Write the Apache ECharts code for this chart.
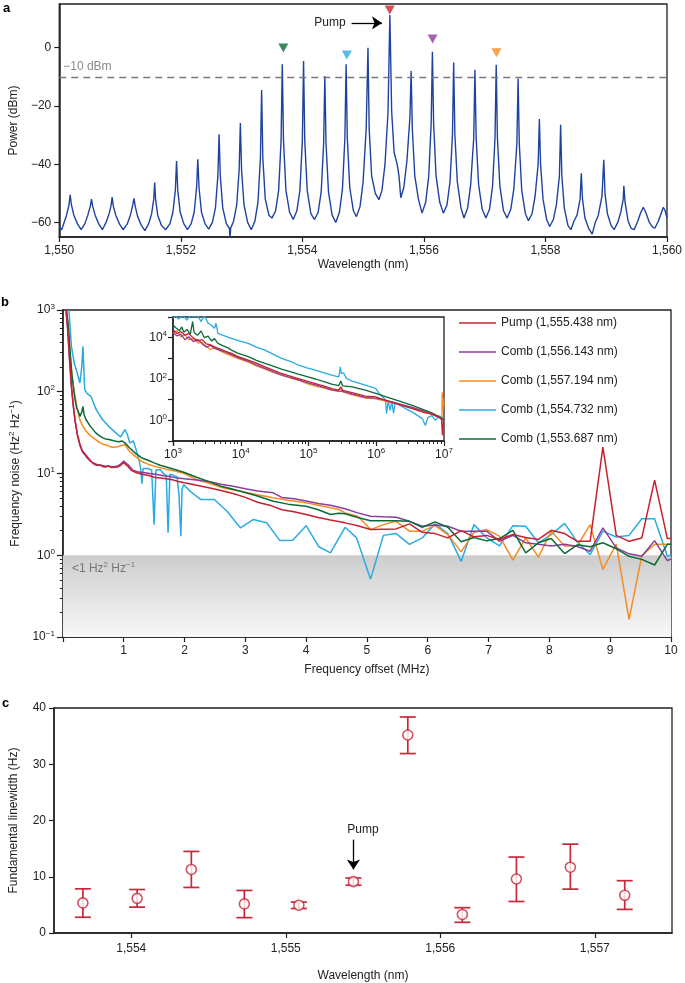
<!DOCTYPE html>
<html><head><meta charset="utf-8">
<script src="https://cdn.jsdelivr.net/npm/echarts@6/dist/echarts.min.js"></script>
<style>html,body{margin:0;padding:0;background:#fff}#c{width:685px;height:983px}</style>
</head><body><div id="c"></div><script>
// ---------- Panel a: optical spectrum (wavelength nm, power dBm) ----------
var spectrum = [
[1550.00,-61.5],[1550.04,-62.5],[1550.08,-60],[1550.12,-57.5],[1550.16,-54],[1550.18,-50.5],[1550.20,-54],[1550.24,-57.5],[1550.30,-60.5],[1550.36,-62.5],
[1550.42,-60.5],[1550.47,-57.5],[1550.51,-54.5],[1550.53,-52],[1550.55,-54.5],[1550.59,-57.5],[1550.65,-60.5],[1550.71,-62.5],
[1550.77,-60],[1550.82,-57],[1550.85,-54.5],[1550.87,-51.3],[1550.89,-54.5],[1550.93,-57.5],[1550.99,-60.5],[1551.05,-62.5],
[1551.12,-60.5],[1551.17,-57.5],[1551.21,-54],[1551.23,-51.7],[1551.25,-54.5],[1551.29,-58],[1551.35,-61],[1551.41,-62.8],
[1551.47,-60.5],[1551.52,-57],[1551.555,-52],[1551.57,-46.3],[1551.585,-52],[1551.62,-57.5],[1551.68,-61],[1551.75,-62.5],
[1551.82,-60.5],[1551.87,-56.5],[1551.91,-49],[1551.93,-38.9],[1551.95,-49],[1551.99,-56.5],[1552.05,-60.5],[1552.11,-62.5],
[1552.17,-60.5],[1552.22,-56.5],[1552.26,-48],[1552.28,-38.3],[1552.30,-48],[1552.34,-56.5],[1552.40,-60.5],[1552.46,-62.3],
[1552.52,-60],[1552.57,-55],[1552.61,-44],[1552.63,-29.7],[1552.65,-44],[1552.69,-55],[1552.75,-60.5],[1552.80,-62],[1552.81,-65.5],[1552.82,-62],
[1552.87,-59.5],[1552.92,-54],[1552.96,-42],[1552.98,-25.9],[1553.00,-42],[1553.04,-54],[1553.10,-60],[1553.16,-62.5],
[1553.22,-59.5],[1553.27,-53],[1553.31,-38],[1553.33,-14.5],[1553.35,-38],[1553.39,-52],[1553.45,-57.5],[1553.50,-58.5],
[1553.56,-56],[1553.61,-49],[1553.65,-32],[1553.67,-5.7],[1553.69,-32],[1553.73,-49],[1553.79,-56.5],[1553.85,-59],
[1553.91,-56],[1553.96,-49],[1554.00,-32],[1554.02,-4.6],[1554.04,-32],[1554.08,-49],[1554.14,-57],[1554.20,-59],
[1554.26,-56.5],[1554.31,-49.5],[1554.35,-33],[1554.37,-9.7],[1554.39,-33],[1554.43,-49.5],[1554.49,-57.5],[1554.55,-60],
[1554.61,-56.5],[1554.66,-48.5],[1554.70,-31],[1554.72,-5.7],[1554.74,-31],[1554.78,-48],[1554.84,-56],[1554.89,-58],
[1554.95,-54.5],[1555.00,-46],[1555.05,-28],[1555.08,0],[1555.10,-28],[1555.14,-44],[1555.20,-50],[1555.26,-52.2],
[1555.31,-49],[1555.36,-40],[1555.41,-22],[1555.44,11.2],[1555.47,-22],[1555.51,-36],[1555.56,-40],[1555.59,-44],[1555.62,-51.5],
[1555.67,-48],[1555.72,-39],[1555.77,-24],[1555.79,-8],[1555.81,-28],[1555.85,-44],[1555.91,-52],[1555.97,-56.8],
[1556.03,-53],[1556.08,-44],[1556.12,-26],[1556.14,-1.4],[1556.16,-26],[1556.20,-44],[1556.26,-53],[1556.32,-56.8],
[1556.38,-54],[1556.43,-46],[1556.47,-30],[1556.49,-5.1],[1556.51,-30],[1556.55,-46],[1556.61,-55],[1556.66,-58.5],
[1556.72,-55],[1556.77,-47],[1556.82,-31],[1556.84,-7.6],[1556.86,-31],[1556.90,-47],[1556.96,-55.5],[1557.02,-58.5],
[1557.08,-55.5],[1557.13,-47.5],[1557.17,-31],[1557.19,-5.9],[1557.21,-31],[1557.25,-47.5],[1557.31,-56],[1557.37,-58.5],
[1557.43,-55.5],[1557.48,-48.5],[1557.53,-33],[1557.55,-10.6],[1557.57,-33],[1557.61,-49],[1557.67,-57],[1557.72,-59.4],
[1557.78,-57],[1557.83,-51],[1557.88,-40],[1557.90,-24.5],[1557.92,-40],[1557.96,-52],[1558.02,-59],[1558.07,-61.4],
[1558.13,-59],[1558.18,-54],[1558.23,-44],[1558.25,-26.5],[1558.27,-44],[1558.31,-55],[1558.37,-61],[1558.42,-62.5],
[1558.47,-59.5],[1558.52,-57.5],[1558.57,-52],[1558.59,-43.1],[1558.61,-52],[1558.65,-58.5],[1558.71,-62],[1558.77,-64],
[1558.82,-60],[1558.87,-57.5],[1558.93,-51],[1558.96,-38.5],[1558.98,-50],[1559.02,-57],[1559.08,-61],[1559.13,-62.5],
[1559.19,-60],[1559.24,-56.5],[1559.28,-52],[1559.29,-47.4],[1559.31,-53],[1559.36,-59.5],[1559.41,-62],[1559.46,-62.5],
[1559.52,-59.5],[1559.57,-56.5],[1559.61,-54.8],[1559.65,-56.5],[1559.71,-60],[1559.76,-61.5],[1559.80,-62],
[1559.86,-59.5],[1559.91,-56.5],[1559.94,-54.8],[1559.97,-56],[1560.00,-58.5]
];
var markerWl = [1553.687, 1554.732, 1555.438, 1556.143, 1557.194];
var markerDb = [-0.1, -2.5, 12.9, 3.0, -1.7];
var refLevel = -10;
var spectrumYTicks = [-60, -40, -20, 0];

// ---------- Panel b: frequency noise (MHz, Hz^2/Hz) ----------
var seriesNames = ['Pump (1,555.438 nm)', 'Comb (1,556.143 nm)', 'Comb (1,557.194 nm)', 'Comb (1,554.732 nm)', 'Comb (1,553.687 nm)'];
var noisePump = [[0.05,1100],[0.08,600],[0.11,260],[0.14,120],[0.17,70],[0.2,45],[0.24,30],[0.28,23],[0.32,19],[0.36,17.5],[0.4,16],[0.45,14.5],[0.5,13.2],[0.55,12.6],[0.6,12.8],[0.65,12.2],[0.7,12.0],[0.75,12.3],[0.8,11.8],[0.85,11.9],[0.9,12.0],[0.95,12.6],[1.0,13.6],[1.03,13.2],[1.07,12.2],[1.12,11.0],[1.2,10.3],[1.3,9.8],[1.4,9.5],[1.5,9.0],[1.6,8.8],[1.7,8.6],[1.8,8.4],[1.9,8.0],[2.0,7.7],[2.2,7.2],[2.4,6.7],[2.6,6.2],[2.8,5.7],[3.0,5.1],[3.2,4.45],[3.4,4.1],[3.6,3.6],[3.8,3.4],[4.0,3.15],[4.2,2.9],[4.4,2.7],[4.64,2.49],[4.85,2.3],[5.06,2.06],[5.27,2.08],[5.48,2.1],[5.70,2.42],[5.91,1.91],[6.12,1.84],[6.33,1.63],[6.55,2.0],[6.76,1.68],[6.97,1.75],[7.18,1.56],[7.40,1.79],[7.61,1.65],[7.82,1.56],[8.03,2.02],[8.25,1.84],[8.46,1.48],[8.67,1.48],[8.88,21],[9.10,1.75],[9.31,1.48],[9.52,1.63],[9.73,8.3],[9.94,1.6],[10,1.6]];
var noiseComb1 = [[0.05,1000],[0.08,550],[0.11,240],[0.14,115],[0.17,68],[0.2,44],[0.24,29],[0.28,22],[0.32,18.5],[0.36,17],[0.4,15.5],[0.45,14.2],[0.5,13.5],[0.55,13.0],[0.6,12.7],[0.65,12.5],[0.7,12.3],[0.75,12.4],[0.8,12.1],[0.85,12.2],[0.9,12.4],[0.95,13.0],[1.0,14.2],[1.03,13.8],[1.08,12.6],[1.15,11.0],[1.25,10.4],[1.35,10.2],[1.45,9.9],[1.55,9.7],[1.65,9.4],[1.75,9.2],[1.85,8.9],[2.0,8.6],[2.2,8.3],[2.4,8.0],[2.6,7.4],[2.8,7.0],[3.0,6.5],[3.2,6.1],[3.46,5.8],[3.6,5.1],[3.8,4.9],[4.0,4.6],[4.2,4.3],[4.4,4.1],[4.64,3.7],[4.85,3.3],[5.06,3.0],[5.27,2.95],[5.48,2.92],[5.70,2.6],[5.91,2.26],[6.12,2.35],[6.33,2.26],[6.55,1.97],[6.76,1.97],[6.97,1.97],[7.18,1.48],[7.40,1.75],[7.61,1.42],[7.82,1.36],[8.03,1.30],[8.25,1.36],[8.46,1.28],[8.67,1.12],[8.88,2.16],[9.10,1.23],[9.31,1.04],[9.52,0.97],[9.73,1.51],[9.94,0.86],[10,0.9]];
var noiseComb2 = [[0.05,1000],[0.08,700],[0.11,350],[0.14,180],[0.17,120],[0.2,88],[0.24,60],[0.28,45],[0.33,38],[0.38,33],[0.45,29],[0.54,26],[0.6,24],[0.65,23],[0.7,22.5],[0.76,21.6],[0.82,21],[0.9,21.2],[0.97,22],[1.02,22.5],[1.1,18.5],[1.2,16],[1.3,14],[1.4,13],[1.5,12.3],[1.6,11.8],[1.7,11.3],[1.84,10.7],[2.0,10.0],[2.2,8.4],[2.38,7.7],[2.6,6.8],[2.8,6.3],[2.92,6.07],[3.2,5.5],[3.46,5.04],[3.7,4.7],[4.0,4.38],[4.2,4.1],[4.4,3.8],[4.54,3.63],[4.64,3.3],[4.85,3.0],[5.06,2.06],[5.27,2.37],[5.48,2.6],[5.70,1.97],[5.91,1.97],[6.12,2.3],[6.33,1.79],[6.55,1.1],[6.76,1.91],[6.97,2.06],[7.18,1.71],[7.40,0.87],[7.61,1.63],[7.82,0.95],[8.03,1.97],[8.25,1.30],[8.46,1.30],[8.67,2.37],[8.88,0.67],[9.10,1.37],[9.31,0.164],[9.52,0.99],[9.73,1.36],[9.94,1.36],[10,1.36]];
var noiseComb3 = [[0.1,1000],[0.14,361],[0.19,220],[0.22,187],[0.28,128],[0.31,200],[0.33,361],[0.35,150],[0.36,106],[0.4,95],[0.46,88],[0.55,60],[0.65,45.8],[0.75,38],[0.87,31.4],[0.95,28],[1.02,34.5],[1.06,30],[1.1,23.7],[1.16,25],[1.2,20],[1.25,14.8],[1.28,11.5],[1.30,7.5],[1.32,11.5],[1.4,11.5],[1.46,11],[1.5,2.37],[1.53,11],[1.6,11.2],[1.65,10],[1.7,9.5],[1.73,1.88],[1.76,9.8],[1.82,9.5],[1.88,9.0],[1.91,5.4],[1.94,1.71],[1.96,6.5],[1.99,7.3],[2.1,6.0],[2.27,4.8],[2.49,4.8],[2.7,3.45],[2.92,2.16],[3.13,2.73],[3.35,2.5],[3.57,1.51],[3.78,1.53],[4.0,2.3],[4.21,1.27],[4.40,1.07],[4.64,2.2],[4.83,1.63],[5.06,0.51],[5.27,1.75],[5.48,1.84],[5.70,1.36],[5.91,1.63],[6.12,2.42],[6.33,1.84],[6.55,0.84],[6.76,2.37],[6.97,1.63],[7.18,1.30],[7.40,2.3],[7.61,2.26],[7.82,1.42],[8.03,1.79],[8.25,2.45],[8.46,1.45],[8.67,1.02],[8.88,1.97],[9.10,1.67],[9.31,1.75],[9.52,2.79],[9.73,2.79],[9.94,0.97],[10,1.0]];
var noiseComb4 = [[0.06,1000],[0.09,650],[0.12,300],[0.15,160],[0.19,90],[0.22,66],[0.25,58],[0.28,50],[0.31,56],[0.33,66],[0.35,52],[0.38,45.8],[0.45,38],[0.54,31.4],[0.6,29],[0.65,27.5],[0.7,26.5],[0.76,26],[0.85,25],[0.92,24.5],[0.97,25],[1.02,23.7],[1.1,20.5],[1.2,17.5],[1.3,15.5],[1.4,14.5],[1.5,13.5],[1.6,12.6],[1.7,12],[1.84,11.2],[2.0,10.3],[2.2,9.0],[2.38,8.06],[2.6,7.0],[2.8,6.4],[2.92,6.07],[3.2,5.3],[3.46,4.58],[3.7,4.22],[4.0,3.97],[4.2,3.6],[4.4,3.15],[4.54,3.27],[4.64,3.21],[4.85,2.9],[5.06,2.65],[5.27,2.65],[5.48,2.65],[5.70,2.6],[5.91,2.2],[6.12,2.56],[6.33,2.2],[6.55,1.46],[6.76,1.65],[6.97,1.50],[7.18,1.6],[7.40,2.02],[7.61,1.07],[7.82,1.42],[8.03,1.6],[8.25,1.05],[8.46,1.34],[8.67,1.27],[8.88,1.42],[9.10,1.20],[9.31,0.97],[9.52,0.89],[9.73,0.76],[9.94,1.36],[10,1.36]];
var lowNoiseLimit = 1;

// ---------- Panel b inset: frequency noise (Hz, Hz^2/Hz) ----------
var insetPump = [[1000,2.4e4],[1150,1.6e4],[1300,2.0e4],[1500,1.3e4],[1700,1.6e4],[2000,9.5e3],[2350,7e3],[2700,8e3],[3100,5e3],[3600,4.5e3],[4100,3.6e3],[5000,2.8e3],[6000,2.2e3],[7300,1.74e3],[9000,1.25e3],[1.29e4,820],[1.7e4,580],[2.28e4,390],[3e4,270],[4e4,185],[5.5e4,135],[7.1e4,105],[9.5e4,78],[1.26e5,60],[1.7e5,45],[2.2e5,34],[2.8e5,29],[3.0e5,42],[3.2e5,28],[4.4e5,22],[6.9e5,15],[9.8e5,13.5],[1.37e6,9.3],[2.2e6,5.8],[3.4e6,3.7],[5.3e6,2.3],[6.6e6,2.1],[8.4e6,1.4],[9.2e6,1.1],[9.5e6,0.19],[9.8e6,1.0],[1e7,1.2]];
var insetComb1 = [[1000,1.8e4],[1150,1.2e4],[1300,1.5e4],[1500,8e3],[1700,1.1e4],[2000,6.5e3],[2350,8e3],[2700,5e3],[3100,3.5e3],[3600,4.2e3],[4100,3e3],[5000,2.4e3],[6000,2e3],[7300,1.5e3],[9000,1.1e3],[1.29e4,720],[1.7e4,480],[2.28e4,330],[3e4,230],[4e4,160],[5.5e4,115],[7.1e4,90],[9.5e4,66],[1.26e5,52],[1.7e5,39],[2.2e5,30],[2.8e5,26],[3.2e5,25],[4.4e5,19],[6.9e5,13],[9.8e5,12],[1.37e6,9.5],[2.2e6,6.2],[3.4e6,4.2],[5.3e6,2.7],[6.6e6,2.0],[8.4e6,1.4],[1e7,1.0]];
var insetComb2 = [[1000,1.6e4],[1150,2.2e4],[1300,1.1e4],[1500,1.4e4],[1700,8e3],[2000,9e3],[2350,5.5e3],[2700,6e3],[3100,3.8e3],[3600,2.6e3],[4100,3.5e3],[5000,2.2e3],[6000,1.7e3],[7300,1.3e3],[9000,1.0e3],[1.29e4,650],[1.7e4,430],[2.28e4,300],[3e4,210],[4e4,150],[5.5e4,110],[7.1e4,87],[9.5e4,60],[1.26e5,45],[1.7e5,36],[2.2e5,29],[2.8e5,25],[3.0e5,33],[3.2e5,24],[4.4e5,17],[6.9e5,12],[9.8e5,11],[1.37e6,8.4],[2.2e6,5.8],[3.4e6,3.9],[5.3e6,2.5],[6.6e6,1.9],[8.4e6,1.6],[9.3e6,1.2],[9.4e6,23],[9.6e6,3],[9.8e6,12],[1e7,5]];
var insetComb3 = [[1000,9e4],[1100,1.2e5],[1200,8e4],[1400,1.2e5],[1600,7e4],[1800,1.2e5],[2000,1e5],[2300,1.2e5],[2600,6e4],[2900,1.2e5],[3300,5e4],[3700,4e4],[4100,2.8e4],[4300,5e4],[4600,1.6e4],[5500,1.3e4],[7300,9.3e3],[9500,7e3],[1.29e4,5.3e3],[1.7e4,3.5e3],[2.28e4,2.5e3],[3e4,1.6e3],[4e4,1e3],[5.5e4,700],[7.1e4,470],[9.5e4,350],[1.26e5,270],[1.7e5,200],[2.2e5,152],[2.8e5,126],[2.95e5,390],[3.05e5,180],[3.3e5,200],[3.6e5,110],[4.4e5,78],[6.9e5,50],[9.8e5,35],[1.1e6,20],[1.3e6,12],[1.37e6,9.3],[1.42e6,2.1],[1.5e6,9],[1.6e6,3],[1.7e6,8],[1.8e6,2.2],[1.9e6,7],[2.2e6,5.4],[2.8e6,3.5],[3.4e6,2.5],[4.2e6,1.6],[4.8e6,1.2],[5.3e6,0.56],[5.8e6,1.4],[6.6e6,1.7],[7.5e6,1.0],[8.5e6,1.6],[1e7,1.4]];
var insetComb4 = [[1000,4.1e4],[1100,3e4],[1250,2.2e4],[1350,3.3e4],[1450,1.8e4],[1600,2.5e4],[1800,1.5e4],[1950,6e4],[2050,1.8e4],[2300,1.3e4],[2600,2.1e4],[2900,1e4],[3300,1.2e4],[3700,7e3],[4100,9e3],[4600,5.3e3],[5500,4e3],[6500,3.2e3],[7300,2.5e3],[9000,1.8e3],[1.29e4,1.2e3],[1.7e4,800],[2.28e4,570],[3e4,420],[4e4,300],[5.5e4,220],[7.1e4,170],[9.5e4,130],[1.26e5,100],[1.7e5,75],[2.2e5,56],[2.8e5,48],[3.0e5,80],[3.2e5,46],[4.4e5,42],[6.9e5,29],[9.8e5,20],[1.37e6,14],[2.2e6,8.4],[3.4e6,5.3],[5.3e6,3],[6.6e6,2.3],[8.4e6,1.5],[9.5e6,1.2],[1e7,1.2]];

// ---------- Panel c: fundamental linewidth ----------
var combWl = [1553.687, 1554.038, 1554.389, 1554.732, 1555.085, 1555.438, 1555.790, 1556.143, 1556.493, 1556.842, 1557.194];
var linewidth = [5.35, 6.16, 11.3, 5.17, 4.94, 9.13, 35.2, 3.3, 9.6, 11.7, 6.7];
var lwLow = [2.8, 4.6, 8.1, 2.73, 4.36, 8.5, 31.9, 1.9, 5.6, 7.8, 4.2];
var lwHigh = [7.85, 7.73, 14.5, 7.56, 5.5, 9.77, 38.4, 4.5, 13.5, 15.8, 9.3];
var lwXTicks = [1554, 1555, 1556, 1557];
var pumpWl = 1555.438;

// ---------- styles ----------
var FONT = '"Liberation Sans", Arial, Helvetica, sans-serif';
var INK = '#222';
var C = {
  pump: '#c8202f', purple: '#8b3d9d', orange: '#f68b1f', blue: '#29abe2', green: '#0b6b38',
  spec: '#1f42a0', lw: '#c8283a'
};
var seriesColors = [C.pump, C.purple, C.orange, C.blue, C.green];
var richSup = {
  b: {fontSize: 12, color: INK, fontFamily: FONT},
  s: {fontSize: 8, color: INK, fontFamily: FONT, padding: [0, 0, 7, 0]}
};
function pow10Label(v) {
  var e = Math.round(Math.log(v) / Math.LN10);
  return '{b|10}{s|' + (e < 0 ? '\u2212' + (-e) : e) + '}';
}
function commaNum(v) {
  var k = Math.floor(v / 1000), r = Math.round(v - k * 1000);
  return k + ',' + ('00' + r).slice(-3);
}
function minusNum(v) { return v < 0 ? '\u2212' + (-v) : String(v); }

var axisLine = {show: true, onZero: false, lineStyle: {color: INK, width: 1.5}};
var tick = {show: true, length: 5, lineStyle: {color: INK, width: 1.2}};
var lbl = {color: INK, fontSize: 12, fontFamily: FONT};
var gridBox = {show: true, borderColor: INK, borderWidth: 1.3, backgroundColor: 'transparent'};

var chart = echarts.init(document.getElementById('c'), null, {renderer: 'canvas'});

var markerColors = [C.green, C.blue, C.pump, C.purple, C.orange];

var option = {
  animation: false,
  textStyle: {fontFamily: FONT},
  grid: [
    Object.assign({left: 53, top: 4, width: 618, height: 233}, gridBox),
    Object.assign({left: 53, top: 310, width: 618, height: 327}, gridBox),
    Object.assign({left: 173, top: 317, width: 271, height: 124}, gridBox, {backgroundColor: '#fff', z: 3}),
    Object.assign({left: 54, top: 708, width: 618, height: 230}, gridBox)
  ],
  xAxis: [
    {gridIndex: 0, type: 'value', min: 1550, max: 1560, interval: 2, axisLine: axisLine, axisTick: tick,
     axisLabel: Object.assign({formatter: commaNum, margin: 8}, lbl), splitLine: {show: false},
     name: 'Wavelength (nm)', nameLocation: 'middle', nameGap: 22, nameTextStyle: lbl},
    {gridIndex: 1, type: 'value', min: 0, max: 10, interval: 1, axisLine: axisLine, axisTick: tick,
     axisLabel: Object.assign({formatter: function (v) { return v === 0 ? '' : v; }, margin: 8}, lbl), splitLine: {show: false},
     name: 'Frequency offset (MHz)', nameLocation: 'middle', nameGap: 27, nameTextStyle: lbl},
    {gridIndex: 2, type: 'log', logBase: 10, min: 1e3, max: 1e7, axisLine: axisLine, axisTick: tick,
     minorTick: {show: true, splitNumber: 9, length: 3, lineStyle: {color: INK, width: 1}},
     axisLabel: Object.assign({formatter: pow10Label, rich: richSup, margin: 6}, lbl), splitLine: {show: false}, z: 4},
    {gridIndex: 3, type: 'value', min: 1553.5, max: 1557.5, axisLine: axisLine,
     axisTick: Object.assign({customValues: lwXTicks}, tick),
     axisLabel: Object.assign({customValues: lwXTicks, formatter: commaNum, margin: 10}, lbl), splitLine: {show: false},
     name: 'Wavelength (nm)', nameLocation: 'middle', nameGap: 37, nameTextStyle: lbl}
  ],
  yAxis: [
    {gridIndex: 0, type: 'value', min: -65, max: 15, axisLine: axisLine,
     axisTick: Object.assign({customValues: spectrumYTicks}, tick),
     axisLabel: Object.assign({customValues: spectrumYTicks, formatter: minusNum}, lbl), splitLine: {show: false},
     name: 'Power (dBm)', nameLocation: 'middle', nameGap: 34, nameTextStyle: lbl},
    {gridIndex: 1, type: 'log', logBase: 10, min: 0.1, max: 1000, axisLine: axisLine, axisTick: Object.assign({}, tick, {length: 6}),
     minorTick: {show: true, splitNumber: 9, length: 3, lineStyle: {color: INK, width: 1}},
     axisLabel: Object.assign({formatter: pow10Label, rich: richSup}, lbl), splitLine: {show: false},
     name: 'Frequency noise (Hz{s|2} Hz{s|\u22121})', nameLocation: 'middle', nameGap: 34,
     nameTextStyle: Object.assign({rich: {s: {fontSize: 8, color: INK, fontFamily: FONT, padding: [0, 0, 7, 0]}}}, lbl)},
    {gridIndex: 2, type: 'log', logBase: 10, min: 0.1, max: 1e5, axisLine: axisLine, axisTick: tick,
     axisLabel: Object.assign({formatter: function (v) { var e = Math.round(Math.log(v) / Math.LN10); return (e >= 0 && e % 2 === 0 && e < 5) ? pow10Label(v) : ''; }, rich: richSup, margin: 6}, lbl),
     splitLine: {show: false}, z: 4},
    {gridIndex: 3, type: 'value', min: 0, max: 40, interval: 10, axisLine: axisLine, axisTick: tick,
     axisLabel: lbl, splitLine: {show: false},
     name: 'Fundamental linewidth (Hz)', nameLocation: 'middle', nameGap: 34, nameTextStyle: lbl}
  ],
  legend: {
    orient: 'vertical', left: 454, top: 312, itemWidth: 37, itemHeight: 12, itemGap: 17,
    data: seriesNames.map(function (n, i) { return {name: n, icon: 'path://M0,0 L37,0 L37,1.6 L0,1.6 Z', itemStyle: {color: seriesColors[i]}}; }),
    textStyle: {color: INK, fontSize: 12, fontFamily: FONT}, selectedMode: false
  },
  graphic: [
    {type: 'text', left: 3, top: 2, style: {text: 'a', font: 'bold 13px ' + FONT, fill: '#000'}},
    {type: 'text', left: 1, top: 296, style: {text: 'b', font: 'bold 13px ' + FONT, fill: '#000'}},
    {type: 'text', left: 2, top: 697, style: {text: 'c', font: 'bold 13px ' + FONT, fill: '#000'}}
  ],
  series: []
};

// Panel a
option.series.push({
  type: 'line', xAxisIndex: 0, yAxisIndex: 0, data: spectrum, showSymbol: false, symbol: 'none',
  lineStyle: {color: C.spec, width: 1.4}, itemStyle: {color: C.spec}, z: 3,
  markLine: {silent: true, symbol: 'none',
    data: [{yAxis: refLevel}],
    lineStyle: {type: [7, 5], color: '#7a7a7a', width: 1.4},
    label: {show: true, position: 'insideStartTop', formatter: '\u221210 dBm', color: '#8a8a8a', fontSize: 12, fontFamily: FONT, distance: 4}
  }
});
option.series.push({
  type: 'scatter', xAxisIndex: 0, yAxisIndex: 0, symbol: 'triangle', symbolRotate: 180, symbolSize: [10, 9], z: 5,
  data: markerWl.map(function (w, i) { return {value: [w, markerDb[i]], itemStyle: {color: markerColors[i]}}; })
});
option.series.push({
  type: 'line', xAxisIndex: 0, yAxisIndex: 0, data: [], showSymbol: false,
  markLine: {silent: true, symbol: ['none', 'arrow'], symbolSize: 10,
    lineStyle: {color: '#000', width: 1.3, type: 'solid'},
    label: {show: true, position: 'start', formatter: 'Pump', color: INK, fontSize: 12, fontFamily: FONT, distance: 6},
    data: [[{coord: [1554.81, 8.5]}, {coord: [1555.31, 8.5]}]]}
});

// Panel b main
var mainData = [noisePump, noiseComb1, noiseComb2, noiseComb3, noiseComb4];
var insetData = [insetPump, insetComb1, insetComb2, insetComb3, insetComb4];
var drawOrder = [3, 2, 1, 4, 0];
drawOrder.forEach(function (i, k) {
  option.series.push({
    name: seriesNames[i], type: 'line', xAxisIndex: 1, yAxisIndex: 1, data: mainData[i],
    showSymbol: false, symbol: 'none', lineStyle: {color: seriesColors[i], width: 1.5}, itemStyle: {color: seriesColors[i]}, z: 3 + k * 0.01
  });
});
drawOrder.forEach(function (i, k) {
  option.series.push({
    name: seriesNames[i], type: 'line', xAxisIndex: 2, yAxisIndex: 2, data: insetData[i],
    showSymbol: false, symbol: 'none', lineStyle: {color: seriesColors[i], width: 1.3}, itemStyle: {color: seriesColors[i]}, z: 4 + k * 0.01
  });
});
option.series.push({
  type: 'line', xAxisIndex: 1, yAxisIndex: 1, data: [], z: 1,
  markArea: {silent: true,
    itemStyle: {color: new echarts.graphic.LinearGradient(0, 0, 0, 1, [{offset: 0, color: '#cdcdcd'}, {offset: 1, color: '#f8f8f8'}])},
    label: {show: false},
    data: [[{yAxis: 0.1}, {yAxis: lowNoiseLimit}]]},
  markPoint: {silent: true, symbol: 'circle', symbolSize: 1, itemStyle: {color: 'rgba(0,0,0,0)'},
    label: {show: true, position: 'right', distance: 0, formatter: '<1 Hz{s|2} Hz{s|\u22121}', color: '#777', fontSize: 12, fontFamily: FONT,
      rich: {s: {fontSize: 8, color: '#777', fontFamily: FONT, padding: [0, 0, 7, 0]}}},
    data: [{coord: [0.14, 0.69]}]}
});

// Panel c
option.series.push({
  type: 'custom', xAxisIndex: 3, yAxisIndex: 3, z: 3,
  data: combWl.map(function (w, i) { return [w, lwLow[i], lwHigh[i]]; }),
  encode: {x: 0, y: [1, 2]},
  renderItem: function (params, api) {
    var pl = api.coord([api.value(0), api.value(1)]);
    var ph = api.coord([api.value(0), api.value(2)]);
    var hw = 8;
    var st = {stroke: C.lw, lineWidth: 1.7, fill: null};
    return {type: 'group', children: [
      {type: 'line', shape: {x1: ph[0], y1: ph[1], x2: pl[0], y2: pl[1]}, style: st},
      {type: 'line', shape: {x1: ph[0] - hw, y1: ph[1], x2: ph[0] + hw, y2: ph[1]}, style: st},
      {type: 'line', shape: {x1: pl[0] - hw, y1: pl[1], x2: pl[0] + hw, y2: pl[1]}, style: st}
    ]};
  }
});
option.series.push({
  type: 'scatter', xAxisIndex: 3, yAxisIndex: 3, z: 4, symbol: 'circle', symbolSize: 10,
  itemStyle: {color: '#fff', borderColor: C.lw, borderWidth: 1.6},
  data: combWl.map(function (w, i) { return [w, linewidth[i]]; })
});
option.series.push({
  type: 'line', xAxisIndex: 3, yAxisIndex: 3, data: [], showSymbol: false,
  markLine: {silent: true, symbol: ['none', 'arrow'], symbolSize: 10,
    lineStyle: {color: '#000', width: 1.3, type: 'solid'}, label: {show: false},
    data: [[{coord: [pumpWl, 16.6]}, {coord: [pumpWl, 11.3]}]]},
  markPoint: {silent: true, symbol: 'circle', symbolSize: 1, itemStyle: {color: 'rgba(0,0,0,0)'},
    label: {show: true, position: 'inside', formatter: 'Pump', color: INK, fontSize: 12, fontFamily: FONT},
    data: [{coord: [1555.50, 18.3]}]}
});

chart.setOption(option);
</script></body></html>
